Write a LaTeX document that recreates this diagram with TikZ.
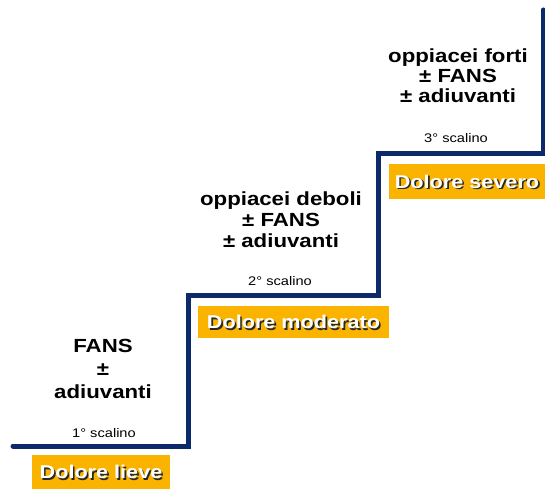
\documentclass[tikz,border=0pt]{standalone}
\usepackage{fontspec}
\setmainfont{Liberation Sans}
\newfontfamily\widefont[FakeStretch=1.17]{Liberation Sans}
\definecolor{stairblue}{RGB}{12,42,105}
\definecolor{boxorange}{RGB}{250,180,0}
\definecolor{shadowgray}{RGB}{40,40,40}
\tikzset{
  stair/.style={draw=stairblue, line width=5pt, line cap=round, line join=miter},
  painbox/.style={fill=boxorange, inner sep=0pt},
  painlbl/.style={text=white, font=\widefont\bfseries\fontsize{18.5}{20}\selectfont, inner sep=0pt},
  painshadow/.style={text=shadowgray, font=\widefont\bfseries\fontsize{18.5}{20}\selectfont, inner sep=0pt},
  drug/.style={align=center, font=\widefont\bfseries\fontsize{19}{21}\selectfont, inner sep=0pt},
  steplbl/.style={font=\widefont\fontsize{12.5}{14}\selectfont, inner sep=0pt}
}
\begin{document}
\begin{tikzpicture}[x=1pt, y=-1pt]
\useasboundingbox (0,0) rectangle (545,489);
% staircase
\coordinate (s0) at (13,446);
\coordinate (s1) at (188,446);
\coordinate (s2) at (188,295);
\coordinate (s3) at (378,295);
\coordinate (s4) at (378,153);
\coordinate (s5) at (543,153);
\coordinate (s6) at (543,10);
\draw[stair] (s0) -- (s1) -- (s2) -- (s3) -- (s4) -- (s5) -- (s6);
% orange boxes
\node[painbox, minimum width=138pt, minimum height=34pt] (b1) at (101,472) {};
\node[painbox, minimum width=191pt, minimum height=32pt] (b2) at (293.5,322) {};
\node[painbox, minimum width=156pt, minimum height=35pt] (b3) at (467,181.5) {};
% labels with shadow
\node[painshadow] (l1s) at ([xshift=1.6pt,yshift=-1.6pt]b1.center) {Dolore lieve};
\node[painlbl] (l1) at (b1.center) {Dolore lieve};
\node[painshadow] (l2s) at ([xshift=1.6pt,yshift=-1.6pt]b2.center) {Dolore moderato};
\node[painlbl] (l2) at (b2.center) {Dolore moderato};
\node[painshadow] (l3s) at ([xshift=1.6pt,yshift=-1.6pt]b3.center) {Dolore severo};
\node[painlbl] (l3) at (b3.center) {Dolore severo};
% drug texts
\node[drug, font=\widefont\bfseries\fontsize{19}{23}\selectfont] (d1) at (103,369) {FANS\\±\\adiuvanti};
\node[drug] (d2) at (281,220) {oppiacei deboli\\± FANS\\± adiuvanti};
\node[drug, font=\widefont\bfseries\fontsize{19}{20}\selectfont] (d3) at (458,76) {oppiacei forti\\± FANS\\± adiuvanti};
% step labels
\node[steplbl] (st1) at (104,433) {1° scalino};
\node[steplbl] (st2) at (280,281) {2° scalino};
\node[steplbl] (st3) at (456,138) {3° scalino};
\end{tikzpicture}
\end{document}
